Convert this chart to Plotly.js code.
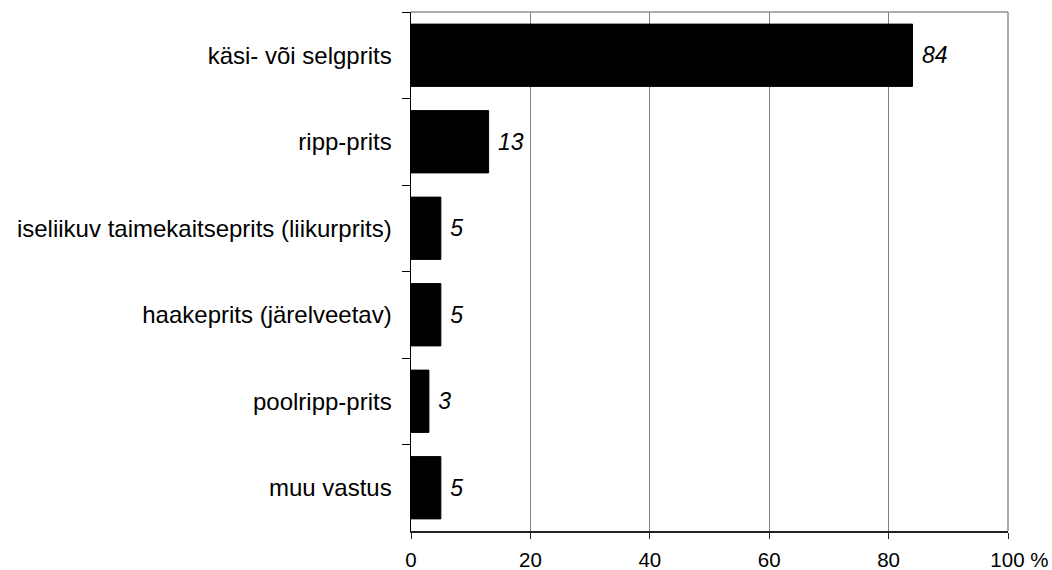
<!DOCTYPE html>
<html>
<head>
<meta charset="utf-8">
<script src="https://cdn.plot.ly/plotly-3.0.1.min.js"></script>
<style>html,body{margin:0;padding:0;background:#fff;}#chart{width:1052px;height:570px;}</style>
</head>
<body>
<div id="chart"></div>
<script>
const categories = [
  "käsi- või selgprits",
  "ripp-prits",
  "iseliikuv taimekaitseprits (liikurprits)",
  "haakeprits (järelveetav)",
  "poolripp-prits",
  "muu vastus"
];
const values = [84, 13, 5, 5, 3, 5];
const tickVals = [0, 20, 40, 60, 80, 100];
const tickText = ["0", "20", "40", "60", "80", "\u00a0\u00a0\u00a0\u00a0100\u00a0%"];

const font = "Liberation Sans, Arial, sans-serif";

const trace = {
  type: "bar",
  orientation: "h",
  y: categories,
  x: values,
  text: values.map(v => "\u00a0" + v),
  textposition: "outside",
  cliponaxis: false,
  textfont: {family: font, size: 23, color: "#000", style: "italic"},
  marker: {color: "#000", line: {color: "#000", width: 1}},
  hoverinfo: "none"
};

const layout = {
  width: 1052, height: 570,
  margin: {l: 411, r: 44, t: 12, b: 39},
  paper_bgcolor: "#fff", plot_bgcolor: "#fff",
  showlegend: false,
  bargap: 0.28,
  font: {family: font, size: 20, color: "#000"},
  xaxis: {
    range: [0, 100],
    tickvals: tickVals, ticktext: tickText,
    showgrid: true, gridcolor: "#808080", gridwidth: 1,
    zeroline: false,
    showline: true, linecolor: "#222", linewidth: 1.5,
    ticks: "outside", ticklen: 6, tickcolor: "#222",
    ticklabelstandoff: 4,
    tickfont: {family: font, size: 20.5, color: "#000"},
    mirror: false, fixedrange: true
  },
  yaxis: {
    autorange: "reversed",
    type: "category",
    showgrid: false, zeroline: false,
    showline: true, linecolor: "#000", linewidth: 1.5,
    ticks: "outside", ticklen: 8, tickcolor: "#000",
    tickson: "boundaries",
    ticklabelstandoff: 13,
    tickfont: {family: font, size: 24, color: "#000"},
    fixedrange: true
  },
  shapes: [
    {type: "line", xref: "paper", yref: "paper", x0: 0, x1: 1, y0: 1, y1: 1, line: {color: "#909090", width: 1.5}},
    {type: "line", xref: "paper", yref: "paper", x0: 1, x1: 1, y0: 0, y1: 1, line: {color: "#909090", width: 1.5}}
  ]
};

Plotly.newPlot("chart", [trace], layout, {staticPlot: true, displayModeBar: false});
</script>
</body>
</html>
